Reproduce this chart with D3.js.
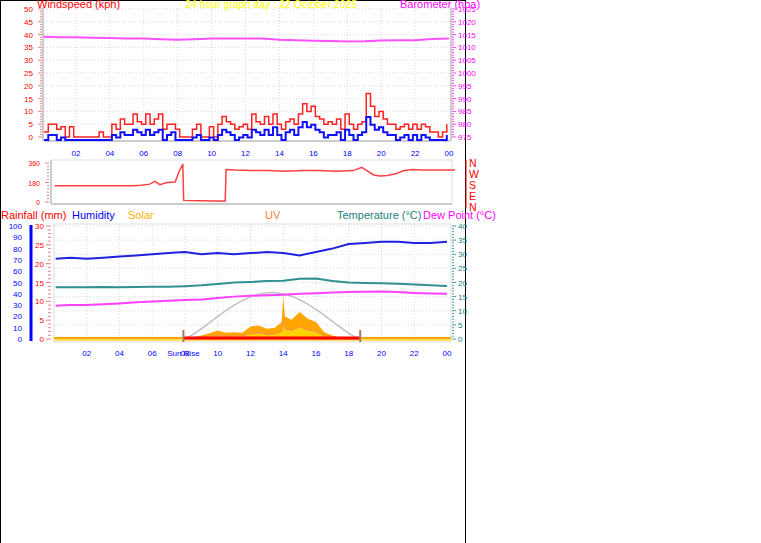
<!DOCTYPE html>
<html><head><meta charset="utf-8">
<script src="https://cdn.jsdelivr.net/npm/d3@7"></script>
<style>body{margin:0;background:#fff}svg{display:block}text{font-family:"Liberation Sans",Arial,sans-serif}</style>
</head><body><svg id="c" width="761" height="543"></svg>
<script>
const hourLabels=["02","04","06","08","10","12","14","16","18","20","22","00"];
const windGust=[2,5,5,3,4,0,4,0,0,0,0,0,0,2,0,0,5,3,7,5,5,9,6,5,9,5,7,9,3,5,5,3,0,0,0,3,5,0,0,4,0,5,8,6,5,3,4,5,3,9,6,5,8,5,9,5,3,6,7,5,9,13,10,12,8,7,5,6,5,7,3,9,5,3,5,6,17,12,8,10,7,5,5,3,4,5,3,5,3,5,4,2,2,0,2,5];
const windAvg=[0,2,2,0,1,0,0,0,0,0,0,0,0,0,0,0,2,1,3,2,2,4,3,2,4,2,3,4,0,2,3,0,0,0,0,1,2,0,0,1,0,2,4,3,2,0,1,2,1,4,3,2,4,2,5,2,0,3,4,2,5,7,5,6,4,3,1,2,2,3,0,4,2,0,2,3,9,6,4,5,3,2,2,0,1,2,0,2,0,2,1,0,0,0,0,2];
const baro=[1014.2,1014,1014,1013.8,1013.7,1013.5,1013.5,1013.2,1013,1013.2,1013.5,1013.5,1013.5,1013.5,1013,1012.8,1012.6,1012.5,1012.3,1012.4,1012.7,1012.8,1012.8,1013.3,1013.5];
const dirTimes=[0.4,5,5.5,6,6.3,6.6,7,7.5,7.7,7.95,8.0,9,10,10.45,10.5,11,12,13,14,15,16,17,18,18.5,18.8,19.2,19.6,20,20.5,21,21.5,22,24];
const dirValues=[150,150,155,165,190,160,180,185,270,350,15,12,10,10,300,295,290,290,285,290,290,285,290,320,290,250,240,245,260,290,300,295,295];
const humidity=[71,72,71,72,73,74,75,76,77,75,76,75,76,77,76,74,77,80,84,85,86,86,85,85,86];
const temperature=[18.3,18.3,18.3,18.4,18.3,18.4,18.5,18.5,18.7,19,19.5,20,20.2,20.5,20.6,21.3,21.4,20.5,20,19.8,19.7,19.6,19.3,19,18.8];
const dewPoint=[11.8,12,12,12.3,12.6,13,13.3,13.5,13.8,14,14.5,15,15.3,15.5,15.7,16,16.2,16.5,16.6,16.7,16.8,16.6,16.3,16.1,16];
const solarTimes=[7.9,8.5,9,9.5,10,10.5,11,11.5,12,12.5,13,13.5,13.9,14,14.1,14.5,15,15.5,16,16.5,17,17.5,18,18.6];
const solarValues=[0,15,30,50,75,55,60,55,110,120,90,100,150,380,200,170,240,180,150,60,30,10,3,0];
const sunrise=7.9, sunset=18.7, solarMaxTheory=410;

const svg=d3.select("#c");
function txt(x,y,s,c,size,anchor){svg.append("text").attr("x",x).attr("y",y).text(s).attr("fill",c).attr("font-size",size||8).attr("text-anchor",anchor||"start");}
function grid(x,y,x0,x1,y0,y1,yt){
  const g=svg.append("g").attr("stroke","#d8d8d8").attr("stroke-dasharray","1,2");
  d3.range(2,24,2).forEach(h=>g.append("line").attr("x1",x(h)).attr("x2",x(h)).attr("y1",y0).attr("y2",y1));
  yt.forEach(v=>g.append("line").attr("x1",x0).attr("x2",x1).attr("y1",y(v)).attr("y2",y(v)));
}
svg.append("line").attr("x1",0.5).attr("x2",0.5).attr("y1",0).attr("y2",543).attr("stroke","#000");
svg.append("line").attr("x1",0).attr("x2",466).attr("y1",0.5).attr("y2",0.5).attr("stroke","#000");
svg.append("line").attr("x1",465.5).attr("x2",465.5).attr("y1",0).attr("y2",543).attr("stroke","#000");

// ---------- top panel
const xT=d3.scaleLinear().domain([0,24]).range([42,449]);
const yW=d3.scaleLinear().domain([0,50]).range([137,9]);
const yB=d3.scaleLinear().domain([975,1025]).range([137,9]);
grid(xT,yW,44,450,8,141,d3.range(5,51,5));
svg.append("line").attr("x1",43).attr("x2",43).attr("y1",8).attr("y2",141).attr("stroke","#ccc").attr("stroke-width",2);
svg.append("line").attr("x1",44).attr("x2",450).attr("y1",141).attr("y2",141).attr("stroke","#ccc").attr("stroke-width",2);
svg.append("line").attr("x1",451).attr("x2",451).attr("y1",8).attr("y2",141).attr("stroke","#ccc").attr("stroke-width",2);
d3.range(0,51,1).forEach(v=>{svg.append("line").attr("x1",v%5?40:38).attr("x2",42).attr("y1",yW(v)).attr("y2",yW(v)).attr("stroke","#f08080");});
d3.range(0,51,5).forEach(v=>txt(33,yW(v)+3,v,"#ff0000",8,"end"));
d3.range(975,1026,1).forEach(v=>{svg.append("line").attr("x1",452).attr("x2",v%5?454:456).attr("y1",yB(v)).attr("y2",yB(v)).attr("stroke","#ff40ff");});
d3.range(975,1026,5).forEach(v=>txt(458,yB(v)+3,v,"#ff00ff",8));
const tq=i=>i*0.25+0.12;
const stepLine=d3.line().curve(d3.curveStepAfter);
svg.append("path").attr("d",stepLine(windGust.map((v,i)=>[xT(tq(i)),yW(v)]))).attr("fill","none").attr("stroke","#ff2020").attr("stroke-width",1.5);
svg.append("path").attr("d",stepLine(windAvg.map((v,i)=>[xT(tq(i)),yW(v)+3]))).attr("fill","none").attr("stroke","#1010ff").attr("stroke-width",2);
svg.append("path").attr("d",d3.line()(baro.map((v,i)=>[xT(Math.max(0.1,i)),yB(v)]))).attr("fill","none").attr("stroke","#ff50ff").attr("stroke-width",2);
hourLabels.forEach((l,i)=>txt(xT(2+2*i),156,l,"#0000ff",8,"middle"));
txt(37,8,"Windspeed (kph)","#ff0000",11);
txt(185,8,"24 hour graph day : 22 October 2025","#ffff00",10.5);
txt(400,8,"Barometer (hpa)","#ff00ff",11);

// ---------- direction panel
const xD=d3.scaleLinear().domain([0,24]).range([42,449]);
const yD=d3.scaleLinear().domain([0,360]).range([202,163]);
svg.append("line").attr("x1",51).attr("x2",51).attr("y1",160).attr("y2",204).attr("stroke","#ccc").attr("stroke-width",2);
svg.append("line").attr("x1",51).attr("x2",452).attr("y1",204).attr("y2",204).attr("stroke","#ccc").attr("stroke-width",2);
svg.append("line").attr("x1",452).attr("x2",452).attr("y1",160).attr("y2",204).attr("stroke","#ddd");
svg.append("line").attr("x1",51).attr("x2",452).attr("y1",160).attr("y2",160).attr("stroke","#ddd");
d3.range(0,361,30).forEach(v=>svg.append("line").attr("x1",v%180?47:45).attr("x2",49).attr("y1",yD(v)).attr("y2",yD(v)).attr("stroke","#f08080"));
[0,180,360].forEach(v=>txt(40,yD(v)+3,v,"#ff0000",7,"end"));
svg.append("path").attr("d",d3.line()(dirTimes.map((t,i)=>[xD(t)+6,yD(dirValues[i])]))).attr("fill","none").attr("stroke","#ff4040").attr("stroke-width",1.5);
svg.append("line").attr("x1",466).attr("x2",466).attr("y1",160).attr("y2",208).attr("stroke","#ff0000");
["N","W","S","E","N"].forEach((l,i)=>txt(469,167+i*11,l,"#ff0000",10.5));

// ---------- bottom panel
const xB=d3.scaleLinear().domain([0,24]).range([54,447]);
const yH=d3.scaleLinear().domain([0,100]).range([339,226]);
const yR=d3.scaleLinear().domain([0,30]).range([339,226]);
const yTmp=d3.scaleLinear().domain([0,40]).range([339,226]);
const yS=d3.scaleLinear().domain([0,1000]).range([339,226]);
svg.append("rect").attr("x",54).attr("y",224).attr("width",397).attr("height",118).attr("fill","none").attr("stroke","#ddd");
grid(xB,yTmp,54,451,224,342,d3.range(5,41,5));
svg.append("line").attr("x1",31).attr("x2",31).attr("y1",225).attr("y2",341).attr("stroke","#0000ff").attr("stroke-width",3);
d3.range(0,101,10).forEach(v=>txt(22,yH(v)+3,v,"#0000ff",8,"end"));
d3.range(0,31,1).forEach(v=>svg.append("line").attr("x1",v%5?48:46).attr("x2",51).attr("y1",yR(v)).attr("y2",yR(v)).attr("stroke","#f08080"));
d3.range(0,31,5).forEach(v=>txt(44,yR(v)+3,v,"#ff0000",8,"end"));
d3.range(0,41,1).forEach(v=>svg.append("line").attr("x1",452).attr("x2",v%5?454:456).attr("y1",yTmp(v)).attr("y2",yTmp(v)).attr("stroke","#40a0a0"));
d3.range(0,41,5).forEach(v=>txt(458,yTmp(v)+3,v,"#208080",8));
svg.append("rect").attr("x",54).attr("y",337).attr("width",397).attr("height",2).attr("fill","#ffa500");
svg.append("rect").attr("x",54).attr("y",339).attr("width",397).attr("height",2).attr("fill","#ffe060");
const sArea=d3.area().x((d,i)=>xB(solarTimes[i])).y0(339).y1(d=>yS(d));
svg.append("path").attr("d",sArea(solarValues)).attr("fill","#ffa500");
svg.append("path").attr("d",sArea(solarValues.map(v=>v*0.45))).attr("fill","#ffd000").attr("stroke","#f09050").attr("stroke-width",1);
const theo=d3.range(0,101).map(k=>{const t=sunrise+(sunset-sunrise)*k/100;return [xB(t),yS(solarMaxTheory*Math.pow(Math.sin(Math.PI*k/100),1.3))];});
svg.append("path").attr("d",d3.line()(theo)).attr("fill","none").attr("stroke","#c0c0c0").attr("stroke-width",1.5);
svg.append("line").attr("x1",xB(sunrise)).attr("x2",xB(sunset)).attr("y1",338).attr("y2",338).attr("stroke","#ff0000").attr("stroke-width",3);
[sunrise,sunset].forEach(t=>svg.append("line").attr("x1",xB(t)).attr("x2",xB(t)).attr("y1",330).attr("y2",342).attr("stroke","#a08060").attr("stroke-width",2));
const lineB=d3.line().x((d,i)=>xB(Math.max(0.1,i)));
svg.append("path").attr("d",lineB.y(d=>yH(d))(humidity)).attr("fill","none").attr("stroke","#2020e0").attr("stroke-width",2);
svg.append("path").attr("d",lineB.y(d=>yTmp(d))(temperature)).attr("fill","none").attr("stroke","#309090").attr("stroke-width",2);
svg.append("path").attr("d",lineB.y(d=>yTmp(d))(dewPoint)).attr("fill","none").attr("stroke","#ff40ff").attr("stroke-width",2);
hourLabels.forEach((l,i)=>txt(xB(2+2*i),356,l,"#0000ff",8,"middle"));
txt(xB(sunrise),356,"Sun Rise","#0000ff",8,"middle");
txt(1,219,"Rainfall (mm)","#ff0000",11);
txt(72,219,"Humidity","#0000ff",11);
txt(128,219,"Solar","#ffb000",11);
txt(265,219,"UV","#ff8040",11);
txt(337,219,"Temperature (°C)","#208080",11);
txt(423,219,"Dew Point (°C)","#ff00ff",11);
</script></body></html>
